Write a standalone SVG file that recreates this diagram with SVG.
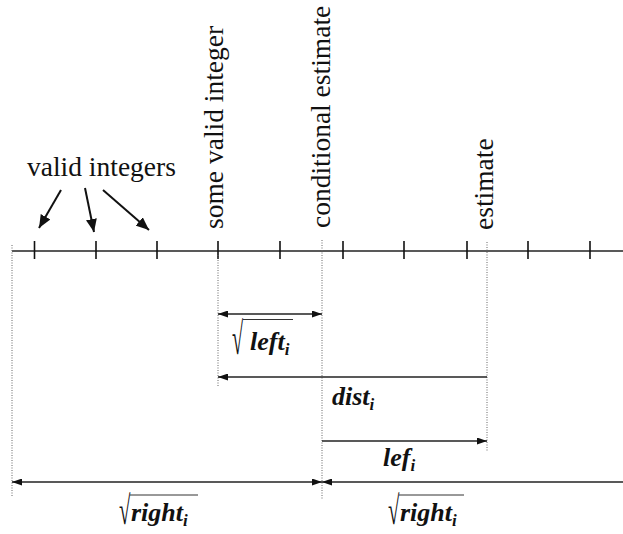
<svg xmlns="http://www.w3.org/2000/svg" width="623" height="534" viewBox="0 0 623 534">
<style>
.lbl{font-family:"Liberation Serif","Times New Roman",serif;font-size:27.5px;fill:#111}
.m{font-family:"Liberation Serif","Times New Roman",serif;font-size:26px;font-weight:bold;font-style:italic;fill:#111}
.sub{font-size:17px}
.rad{font-family:"Liberation Serif","Times New Roman",serif;fill:#111}
.axis{stroke:#222;stroke-width:1.5;fill:none}
.tick{stroke:#111;stroke-width:1.6}
.dot{stroke:#666;stroke-width:1;stroke-dasharray:1 1.5;fill:none}
.dim{stroke:#222;stroke-width:1.3;fill:none}
.ptr{stroke:#111;stroke-width:2;fill:none}
.ovl{stroke:#333;stroke-width:1}
</style>
<defs>
<marker id="ah" viewBox="0 0 10 7" refX="10" refY="3.5" markerWidth="10" markerHeight="7" markerUnits="userSpaceOnUse" orient="auto-start-reverse">
<path d="M0,0 L10,3.5 L0,7 z" fill="#111"/>
</marker>
<marker id="ab" viewBox="0 0 13 11" refX="13" refY="5.5" markerWidth="13" markerHeight="11" markerUnits="userSpaceOnUse" orient="auto">
<path d="M0,0 L13,5.5 L0,11 z" fill="#111"/>
</marker>
</defs>

<g id="axis">
<line class="axis" x1="12" y1="251" x2="623" y2="251"/>
<line class="tick" x1="34.5" y1="241" x2="34.5" y2="259"/>
<line class="tick" x1="96" y1="241" x2="96" y2="259"/>
<line class="tick" x1="157" y1="241" x2="157" y2="259"/>
<line class="tick" x1="218" y1="241" x2="218" y2="259"/>
<line class="tick" x1="280" y1="241" x2="280" y2="259"/>
<line class="tick" x1="343" y1="241" x2="343" y2="259"/>
<line class="tick" x1="404" y1="241" x2="404" y2="259"/>
<line class="tick" x1="467" y1="241" x2="467" y2="259"/>
<line class="tick" x1="528" y1="241" x2="528" y2="259"/>
<line class="tick" x1="590" y1="241" x2="590" y2="259"/>
</g>

<g id="guides">
<line class="dot" x1="12" y1="245" x2="12" y2="497"/>
<line class="dot" x1="218" y1="255" x2="218" y2="387"/>
<line class="dot" x1="322" y1="240" x2="322" y2="499"/>
<line class="dot" x1="487" y1="242" x2="487" y2="452"/>
</g>

<g id="valid-integers">
<text class="lbl" x="27" y="176">valid integers</text>
</g>
<g id="some-valid-integer">
<text class="lbl" transform="translate(223,229) rotate(-90)">some valid integer</text>
</g>
<g id="conditional-estimate">
<text class="lbl" transform="translate(330,228) rotate(-90)">conditional estimate</text>
</g>
<g id="estimate">
<text class="lbl" transform="translate(493,230) rotate(-90)">estimate</text>
</g>

<g id="connectors">
<line class="ptr" x1="61" y1="190" x2="39" y2="228" marker-end="url(#ab)"/>
<line class="ptr" x1="85" y1="188" x2="94" y2="232" marker-end="url(#ab)"/>
<line class="ptr" x1="103" y1="190" x2="149" y2="230" marker-end="url(#ab)"/>
<line class="dim" x1="218" y1="314" x2="322" y2="314" marker-start="url(#ah)" marker-end="url(#ah)"/>
<line class="dim" x1="487" y1="377" x2="218" y2="377" marker-end="url(#ah)"/>
<line class="dim" x1="322" y1="441" x2="487" y2="441" marker-end="url(#ah)"/>
<line class="dim" x1="12" y1="482" x2="322" y2="482" marker-start="url(#ah)" marker-end="url(#ah)"/>
<line class="dim" x1="322" y1="482" x2="623" y2="482" marker-start="url(#ah)"/>
</g>

<g id="label-sqrt-left">
<text class="rad" font-size="45" transform="translate(232,354) scale(0.45,1)">√</text>
<line class="ovl" x1="243" y1="319.5" x2="293" y2="319.5"/>
<text class="m" x="250" y="350">left<tspan class="sub" dy="5">i</tspan></text>
</g>
<g id="label-dist">
<text class="m" x="332" y="405">dist<tspan class="sub" dy="5">i</tspan></text>
</g>
<g id="label-lef">
<text class="m" x="383" y="466">lef<tspan class="sub" dy="5">i</tspan></text>
</g>
<g id="label-sqrt-right-1">
<text class="rad" font-size="40" transform="translate(119,524) scale(0.52,1)">√</text>
<line class="ovl" x1="130" y1="495" x2="198" y2="495"/>
<text class="m" x="131" y="521">right<tspan class="sub" dy="5">i</tspan></text>
</g>
<g id="label-sqrt-right-2">
<text class="rad" font-size="40" transform="translate(388,524) scale(0.52,1)">√</text>
<line class="ovl" x1="399" y1="495" x2="464" y2="495"/>
<text class="m" x="400" y="521">right<tspan class="sub" dy="5">i</tspan></text>
</g>
</svg>
